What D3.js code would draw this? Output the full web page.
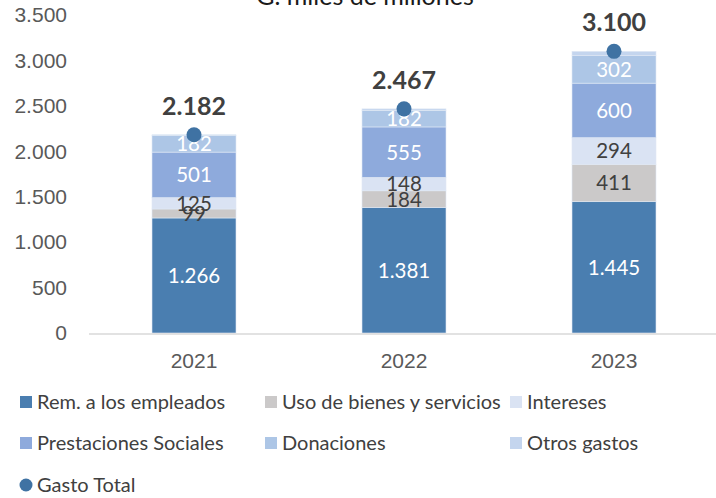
<!DOCTYPE html>
<html>
<head>
<meta charset="utf-8">
<script src="https://cdn.jsdelivr.net/npm/d3@7"></script>
<style>
  body { margin: 0; background: #fff; }
  svg { display: block; font-family: Lato, "Open Sans", sans-serif; }
  .axis text { fill: #595959; }
  .axis path, .axis line { stroke: none; }
</style>
</head>
<body>
<svg id="chart"></svg>
<script>
// Data (G. miles de millones)
const years = ['2021', '2022', '2023'];
const seriesNames = ['Rem. a los empleados', 'Uso de bienes y servicios', 'Intereses',
                     'Prestaciones Sociales', 'Donaciones', 'Otros gastos'];
const remEmpleados = [1266, 1381, 1445];
const usoBienes = [99, 184, 411];
const intereses = [125, 148, 294];
const prestaciones = [501, 555, 600];
const donaciones = [182, 182, 302];
const otrosGastos = [9, 17, 48];
const gastoTotal = [2182, 2467, 3100];
const yTicks = [0, 500, 1000, 1500, 2000, 2500, 3000, 3500];

const colors = ['#4a7eb0', '#cbc9c9', '#dae3f3', '#8eaadc', '#adc6e6', '#c4d5ee'];
const labelColors = ['#fff', '#404040', '#404040', '#fff', '#fff', null];
const dotColor = '#3f72a3';

const width = 716, height = 498;
const margin = {top: 15, left: 89, right: -3, bottom: 165};

const fmt = v => d3.format(',')(v).replace(/,/g, '.');

const svg = d3.select('#chart').attr('width', width).attr('height', height);

const table = years.map((y, i) => ({
  year: y,
  s0: remEmpleados[i], s1: usoBienes[i], s2: intereses[i],
  s3: prestaciones[i], s4: donaciones[i], s5: otrosGastos[i],
  total: gastoTotal[i]
}));
const keys = ['s0', 's1', 's2', 's3', 's4', 's5'];
const stacked = d3.stack().keys(keys)(table);

const x = d3.scaleBand().domain(years)
  .range([margin.left, width - margin.right]).paddingInner(0.6).paddingOuter(0.3);
const y = d3.scaleLinear().domain([0, 3500]).range([height - margin.bottom, margin.top]);

// title (partly cut off at top, as in the source)
svg.append('text')
  .attr('x', 365).attr('y', 5)
  .attr('text-anchor', 'middle')
  .attr('fill', '#1a1a1a')
  .style('font-size', '25px')
  .text('G. miles de millones');

// y axis
svg.append('g').attr('class', 'axis')
  .attr('transform', `translate(${margin.left - 2},0)`)
  .call(d3.axisLeft(y).tickValues(yTicks).tickSize(0).tickPadding(20).tickFormat(fmt))
  .call(g => g.selectAll('text').style('font-size', '21px'));

// bars
const layers = svg.append('g').selectAll('g')
  .data(stacked).join('g')
  .attr('fill', (d, i) => colors[i]);

layers.selectAll('rect')
  .data(d => d).join('rect')
  .attr('x', d => x(d.data.year))
  .attr('width', x.bandwidth())
  .attr('y', d => y(d[1]))
  .attr('height', d => y(d[0]) - y(d[1]))
  .attr('stroke', '#dfe8f4')
  .attr('stroke-width', 0.6);

// x axis baseline
svg.append('line')
  .attr('x1', margin.left).attr('x2', width)
  .attr('y1', y(0) + 1).attr('y2', y(0) + 1)
  .attr('stroke', '#d9d9d9').attr('stroke-width', 1.5);

svg.append('g').attr('class', 'axis')
  .attr('transform', `translate(0,${y(0)})`)
  .call(d3.axisBottom(x).tickSize(0).tickPadding(20))
  .call(g => g.selectAll('text').style('font-size', '21px'));

// segment labels
stacked.forEach((layer, i) => {
  if (!labelColors[i]) return;
  svg.append('g').selectAll('text')
    .data(layer).join('text')
    .attr('x', d => x(d.data.year) + x.bandwidth() / 2)
    .attr('y', d => (y(d[0]) + y(d[1])) / 2)
    .attr('dy', '0.36em')
    .attr('text-anchor', 'middle')
    .attr('fill', labelColors[i])
    .style('font-size', '20.5px')
    .text(d => fmt(d[1] - d[0]));
});

// total markers
svg.append('g').selectAll('circle')
  .data(table).join('circle')
  .attr('cx', d => x(d.year) + x.bandwidth() / 2)
  .attr('cy', d => y(d.total))
  .attr('r', 7.5)
  .attr('fill', dotColor);

svg.append('g').selectAll('text')
  .data(table).join('text')
  .attr('x', d => x(d.year) + x.bandwidth() / 2)
  .attr('y', d => y(d.total) - 29)
  .attr('dy', '0.36em')
  .attr('text-anchor', 'middle')
  .attr('fill', '#404040')
  .style('font-size', '25px')
  .style('font-weight', 'bold')
  .text(d => fmt(d.total));

// legend
const legendPos = [[20, 402], [265, 402], [510, 402], [20, 443], [265, 443], [510, 443]];
const legend = svg.append('g');
seriesNames.forEach((name, i) => {
  const [lx, ly] = legendPos[i];
  legend.append('rect')
    .attr('x', lx).attr('y', ly - 6).attr('width', 12).attr('height', 12)
    .attr('fill', colors[i]);
  legend.append('text')
    .attr('x', lx + 17).attr('y', ly).attr('dy', '0.36em')
    .attr('fill', '#404040').style('font-size', '20px')
    .text(name);
});
legend.append('circle')
  .attr('cx', 26).attr('cy', 485).attr('r', 6.5).attr('fill', dotColor);
legend.append('text')
  .attr('x', 37).attr('y', 485).attr('dy', '0.36em')
  .attr('fill', '#404040').style('font-size', '20px')
  .text('Gasto Total');
</script>
</body>
</html>
